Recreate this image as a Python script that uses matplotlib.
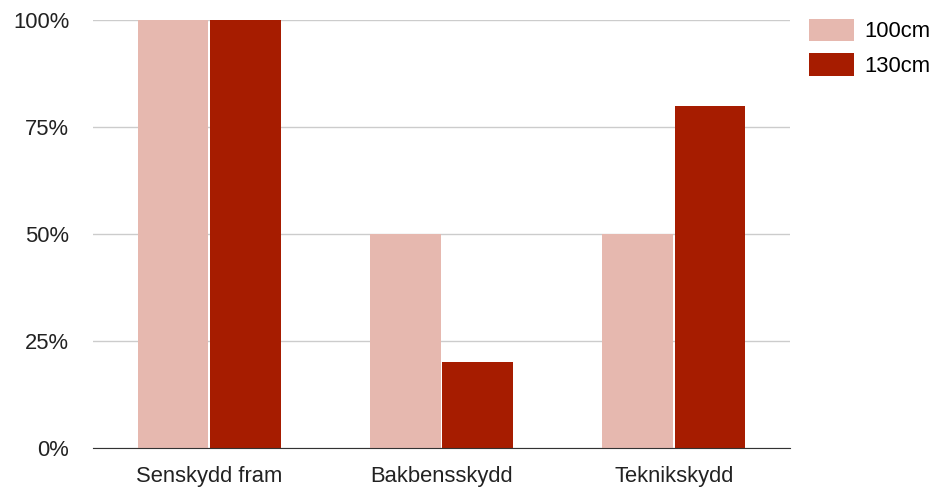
import numpy as np
import matplotlib.pyplot as plt
from matplotlib.ticker import PercentFormatter

plt.rcParams['font.family'] = ['Liberation Sans', 'DejaVu Sans']

categories = ['Senskydd fram', 'Bakbensskydd', 'Teknikskydd']
series_names = ['100cm', '130cm']
values_100 = [100, 50, 50]
values_130 = [100, 20, 80]
colors = ['#e6b8af', '#a61c00']
yticks = [0, 25, 50, 75, 100]

fs = 15.8

fig = plt.figure(figsize=(9.38, 4.91), dpi=100)
ax = fig.add_axes([0.0991, 0.0876, 0.7431, 0.8717])

x = np.arange(len(categories))
w = 0.305
ax.bar(x - w / 2 - 0.003, values_100, w, color=colors[0], label=series_names[0], zorder=2)
ax.bar(x + w / 2 + 0.003, values_130, w, color=colors[1], label=series_names[1], zorder=2)

ax.set_xlim(-0.5, 2.5)
ax.set_ylim(0, 100)
ax.set_yticks(yticks)
ax.yaxis.set_major_formatter(PercentFormatter(decimals=0))
ax.set_xticks(x)
ax.set_xticklabels(categories)
ax.grid(axis='y', color='#cccccc', linewidth=1, zorder=0)
for s in ['top', 'right', 'left']:
    ax.spines[s].set_visible(False)
ax.spines['bottom'].set_color('#333333')
ax.spines['bottom'].set_zorder(3)
ax.tick_params(length=0, labelsize=fs, colors='#222222')
ax.tick_params(axis='y', pad=17)
ax.tick_params(axis='x', pad=13)

ax.legend(loc='upper left', bbox_to_anchor=(0.8625, 0.962), bbox_transform=fig.transFigure,
          frameon=False, fontsize=fs, handlelength=2.05, handleheight=1.2,
          handletextpad=0.45, labelspacing=0.5, borderaxespad=0, borderpad=0)

fig.savefig('out.png', dpi=100)
